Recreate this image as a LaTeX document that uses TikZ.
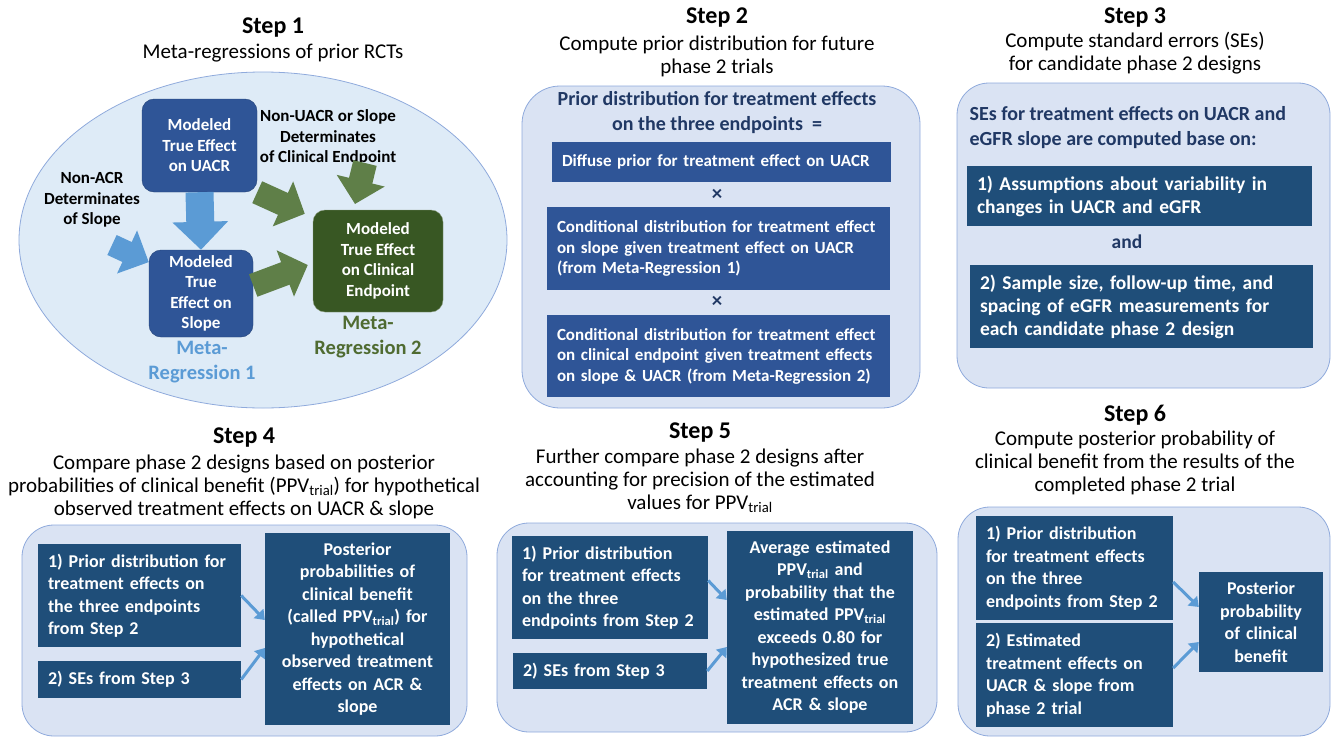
\documentclass[tikz,border=0pt]{standalone}
\usepackage{fontspec}
\setmainfont{Carlito}
\usetikzlibrary{arrows.meta, positioning}
\definecolor{boxblue}{HTML}{2F5597}
\definecolor{boxnavy}{HTML}{1F4E79}
\definecolor{panelfill}{HTML}{DAE3F3}
\definecolor{panelline}{HTML}{8FAADC}
\definecolor{ovalfill}{HTML}{DEEBF7}
\definecolor{headblue}{HTML}{203864}
\definecolor{arrowblue}{HTML}{5B9BD5}
\definecolor{darkgreen}{HTML}{385723}
\definecolor{arrowgreen}{HTML}{5F7F48}
\definecolor{textgreen}{HTML}{4F6B31}
\tikzset{
    steptitle/.style={font=\bfseries\fontsize{24}{27}\selectfont},
    stepsub/.style={align=center, font=\fontsize{21}{23}\selectfont},
    panel/.style={rectangle, rounded corners=32pt, draw=panelline, fill=panelfill, thick},
    modelbox/.style={rectangle, rounded corners=12pt, fill=boxblue, draw=boxblue!80!black,
        text=white, align=center, font=\bfseries\fontsize{17}{20.5}\selectfont},
    clinbox/.style={modelbox, fill=darkgreen, draw=darkgreen!60!white},
    priorbox/.style={rectangle, fill=boxblue, text=white, align=left, inner sep=10pt,
        font=\bfseries\fontsize{17}{20.5}\selectfont},
    sebox/.style={rectangle, fill=boxnavy, text=white, align=left, inner sep=10pt,
        font=\bfseries\fontsize{19.5}{23}\selectfont},
    inbox/.style={rectangle, fill=boxnavy, text=white, align=left, inner sep=10pt,
        font=\bfseries\fontsize{18}{22.5}\selectfont},
    outbox/.style={inbox, align=center},
    plainlabel/.style={align=center, font=\bfseries\fontsize{17}{20.5}\selectfont},
    metalabel/.style={align=center, font=\bfseries\fontsize{20.5}{25}\selectfont},
    smallarrow/.style={arrowblue, line width=3pt, -{Triangle[length=9pt, width=13pt]}},
    bigblue/.style={arrowblue, line width=28pt, -{Triangle[length=28pt, width=54pt]}},
    biggreen/.style={arrowgreen, line width=24pt, -{Triangle[length=24pt, width=48pt]}},
}
\begin{document}
\begin{tikzpicture}[x=1pt, y=-1pt]
    \useasboundingbox (0,0) rectangle (1333,739);

    % Step 1
    \node[steptitle] (t1) at (273,28) {Step 1};
    \node[stepsub] (s1) at (273,53) {Meta-regressions of prior RCTs};
    \draw[fill=ovalfill, draw=panelline, thick] (263,240) ellipse [x radius=244pt, y radius=168pt];
    \node[modelbox, minimum width=115pt, minimum height=93pt] (uacr) at (199.5,145.5) {Modeled\\True Effect\\on UACR};
    \node[modelbox, minimum width=104pt, minimum height=87pt] (slope) at (201,293.5) {Modeled\\True\\Effect on\\Slope};
    \node[clinbox, minimum width=130pt, minimum height=102pt] (clin) at (378,261) {Modeled\\True Effect\\on Clinical\\Endpoint};
    \node[plainlabel] (nacr) at (92,200) {Non-ACR\\Determinates\\of Slope};
    \node[plainlabel] (ncl) at (328,137.5) {Non-UACR or Slope\\Determinates\\of Clinical Endpoint};
    \node[metalabel, text=arrowblue] (mr1) at (202,362) {Meta-\\Regression 1};
    \node[metalabel, text=textgreen] (mr2) at (368,337.5) {Meta-\\Regression 2};
    \coordinate (nacrfoot) at (112,245);
    \coordinate (nclfoot) at (365,163);
    \coordinate (ncltip) at (355,204);
    \draw[bigblue] (uacr.south) -- (slope.north);
    \draw[bigblue, line width=22pt, -{Triangle[length=24pt, width=46pt]}] (nacrfoot) -- (slope.149);
    \draw[biggreen] (uacr.south east) -- ([xshift=-8pt, yshift=-4pt]clin.north west);
    \draw[biggreen] (nclfoot) -- (ncltip);
    \draw[biggreen] ([yshift=8pt]slope.east) -- ([xshift=-5pt, yshift=-4pt]clin.west);

    % Step 2
    \node[steptitle] (t2) at (717,18) {Step 2};
    \node[stepsub] (s2) at (717,56.5) {Compute prior distribution for future\\phase 2 trials};
    \node[panel, rounded corners=38pt, minimum width=398pt, minimum height=322pt] (prior) at (721,247) {};
    \node[align=center, text=headblue, font=\bfseries\fontsize{20}{25}\selectfont] (priorhead) at (717,112.5)
        {Prior distribution for treatment effects\\on the three endpoints\ \ =};
    \node[priorbox, text width=319pt, minimum height=40pt] (diffuse) at (721.5,162)
        {Diffuse prior for treatment effect on UACR};
    \node[font=\bfseries\fontsize{21}{21}\selectfont, text=headblue] (times1) at (717,195) {×};
    \node[priorbox, text width=323pt, minimum height=83pt] (condslope) at (718.5,248.5)
        {Conditional distribution for treatment effect\\on slope given treatment effect on UACR\\(from Meta-Regression 1)};
    \node[font=\bfseries\fontsize{21}{21}\selectfont, text=headblue] (times2) at (717,302) {×};
    \node[priorbox, text width=323pt, minimum height=82pt] (condclin) at (718.5,356)
        {Conditional distribution for treatment effect\\on clinical endpoint given treatment effects\\on slope \& UACR (from Meta-Regression 2)};

    % Step 3
    \node[steptitle] (t3) at (1135,18) {Step 3};
    \node[stepsub] (s3) at (1135,53.5) {Compute standard errors (SEs)\\for candidate phase 2 designs};
    \node[panel, minimum width=373pt, minimum height=305pt] (sepanel) at (1143.5,235.5) {};
    \node[anchor=west, align=left, text=headblue, font=\bfseries\fontsize{20}{25}\selectfont] (sehead) at (966,127.5)
        {SEs for treatment effects on UACR and\\eGFR slope are computed base on:};
    \node[sebox, text width=325pt, minimum height=58pt] (vari) at (1139.5,196)
        {1) Assumptions about variability in\\changes in UACR and eGFR};
    \node[text=headblue, font=\bfseries\fontsize{19.5}{19.5}\selectfont] (and) at (1127,242) {and};
    \node[sebox, text width=323pt, minimum height=83pt] (sample) at (1141.5,306.5)
        {2) Sample size, follow-up time, and\\spacing of eGFR measurements for\\each candidate phase 2 design};

    % Step 4
    \node[steptitle] (t4) at (244,438) {Step 4};
    \node[stepsub] (s4) at (244,487) {Compare phase 2 designs based on posterior\\probabilities of clinical benefit (PPV\textsubscript{trial}) for  hypothetical\\observed treatment effects on UACR \& slope};
    \node[panel, minimum width=445pt, minimum height=211pt] (p4) at (244.5,630.5) {};
    \node[inbox, text width=183pt, minimum height=101pt] (q1) at (139.5,595.5)
        {1) Prior distribution for\\treatment effects on\\the three endpoints\\from Step 2};
    \node[inbox, text width=183pt, minimum height=33pt] (q2) at (139.5,679.5) {2) SEs from Step 3};
    \node[outbox, text width=165pt, minimum height=190pt] (q3) at (357.5,629)
        {Posterior\\probabilities of\\clinical benefit\\(called PPV\textsubscript{trial}) for\\hypothetical\\observed treatment\\effects on ACR \&\\slope};
    \draw[smallarrow] (q1.east) -- ([yshift=9pt]q3.west);
    \draw[smallarrow] (q2.east) -- ([yshift=-19pt]q3.west);

    % Step 5
    \node[steptitle] (t5) at (700,433) {Step 5};
    \node[stepsub] (s5) at (700,481) {Further compare phase 2 designs after\\accounting for precision of the estimated\\values for PPV\textsubscript{trial}};
    \node[panel, minimum width=440pt, minimum height=209pt] (p5) at (717,627.5) {};
    \node[inbox, text width=176pt, minimum height=99pt] (r1) at (610,587.5)
        {1) Prior distribution\\for treatment effects\\on the three\\endpoints from Step 2};
    \node[inbox, text width=174pt, minimum height=32pt] (r2) at (610,671) {2) SEs from Step 3};
    \node[outbox, text width=166pt, minimum height=190pt] (r3) at (820,627)
        {Average estimated\\PPV\textsubscript{trial} and\\probability that the\\estimated PPV\textsubscript{trial}\\exceeds 0.80 for\\hypothesized true\\treatment effects on\\ACR \& slope};
    \draw[smallarrow] ([yshift=7pt]r1.east) -- ([yshift=27pt]r3.west);
    \draw[smallarrow] (r2.east) -- ([yshift=-20pt]r3.west);

    % Step 6
    \node[steptitle] (t6) at (1135,415) {Step 6};
    \node[stepsub] (s6) at (1135,463) {Compute posterior probability of\\clinical benefit from the results of the\\completed phase 2 trial};
    \node[panel, minimum width=372pt, minimum height=229pt] (p6) at (1144,621.5) {};
    \node[inbox, text width=177pt, minimum height=100pt] (u1) at (1074.5,568)
        {1) Prior distribution\\for treatment effects\\on the three\\endpoints from Step 2};
    \node[inbox, text width=177pt, minimum height=98pt] (u2) at (1074.5,675)
        {2) Estimated\\treatment effects on\\UACR \& slope from\\phase 2 trial};
    \node[outbox, text width=104pt, minimum height=100pt] (u3) at (1261,622)
        {Posterior\\probability\\of clinical\\benefit};
    \draw[smallarrow] ([yshift=-14pt]u1.east) -- ([yshift=15pt]u3.west);
    \draw[smallarrow] ([yshift=7pt]u2.east) -- ([yshift=-20pt]u3.west);
\end{tikzpicture}
\end{document}
